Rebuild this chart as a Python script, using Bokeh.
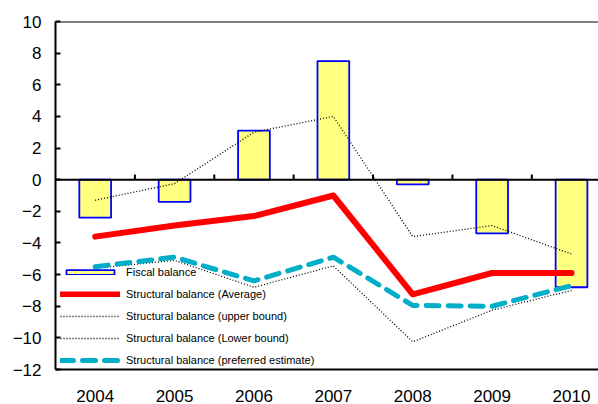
from bokeh.plotting import figure
from bokeh.models import Range1d, FixedTicker, Span, Legend, LegendItem, ColumnDataSource
from bokeh.embed import file_html
from bokeh.resources import INLINE

years = ["2004", "2005", "2006", "2007", "2008", "2009", "2010"]
fiscal = [-2.4, -1.4, 3.1, 7.5, -0.3, -3.4, -6.8]
avg = [-3.6, -2.9, -2.3, -1.0, -7.25, -5.9, -5.9]
upper = [-1.3, -0.25, 3.0, 4.0, -3.6, -2.9, -4.7]
lower = [-5.6, -5.1, -6.8, -5.45, -10.25, -8.25, -7.0]
preferred = [-5.5, -4.9, -6.4, -4.9, -7.95, -8.0, -6.7]
y_ticks = [-12, -10, -8, -6, -4, -2, 0, 2, 4, 6, 8, 10]

xs = list(range(len(years)))
bounds = [i + 0.5 for i in xs[:-1]]

FONT = "Liberation Sans"

p = figure(width=598, height=404, output_backend="svg", toolbar_location=None,
           x_range=Range1d(-0.5, 6.34), y_range=Range1d(-12, 10),
           min_border_left=55, min_border_top=21, min_border_bottom=31, min_border_right=0)
p.outline_line_color = None
p.xgrid.visible = False
p.ygrid.visible = False
p.background_fill_color = "white"
p.border_fill_color = "white"

# axes
p.yaxis.ticker = FixedTicker(ticks=y_ticks)
p.yaxis.major_tick_in = 5
p.yaxis.major_tick_out = 0
p.yaxis.minor_tick_line_color = None
p.yaxis.axis_line_width = 2
p.yaxis.axis_line_color = "black"
p.yaxis.major_tick_line_width = 2
p.yaxis.major_label_text_font = FONT
p.yaxis.major_label_text_font_size = "17px"
p.yaxis.major_label_text_color = "black"
p.yaxis.major_label_standoff = 14

p.xaxis.ticker = FixedTicker(ticks=xs)
p.xaxis.major_label_overrides = {i: y for i, y in zip(xs, years)}
p.xaxis.major_tick_line_color = None
p.xaxis.minor_tick_line_color = None
p.xaxis.axis_line_width = 2
p.xaxis.axis_line_color = "black"
p.xaxis.major_label_text_font = FONT
p.xaxis.major_label_text_font_size = "17px"
p.xaxis.major_label_text_color = "black"
p.xaxis.major_label_standoff = 14

# top border and zero line
p.add_layout(Span(location=10, dimension="width", line_color="black", line_width=2))
p.add_layout(Span(location=0, dimension="width", line_color="black", line_width=2))
p.segment(x0=bounds, y0=[0] * len(bounds), x1=bounds, y1=[0.32] * len(bounds),
          line_color="black", line_width=2)

src = ColumnDataSource(dict(x=xs, fiscal=fiscal, avg=avg, upper=upper, lower=lower, pref=preferred))

r_bar = p.vbar(x="x", top="fiscal", bottom=0, width=0.4, source=src,
               fill_color="#FFFF80", line_color="#0000FF", line_width=1.8)
r_up = p.line("x", "upper", source=src, line_color="black", line_width=1.3, line_dash="1 2")
r_lo = p.line("x", "lower", source=src, line_color="black", line_width=1.3, line_dash="1 2")
r_avg = p.line("x", "avg", source=src, line_color="#FF0000", line_width=6, line_cap="round", line_join="round")
r_pref = p.line("x", "pref", source=src, line_color="#00AEC8", line_width=5, line_dash="13 9",
                line_cap="round", line_join="round")

legend = Legend(items=[
    LegendItem(label="Fiscal balance", renderers=[r_bar]),
    LegendItem(label="Structural balance (Average)", renderers=[r_avg]),
    LegendItem(label="Structural balance (upper bound)", renderers=[r_up]),
    LegendItem(label="Structural balance (Lower bound)", renderers=[r_lo]),
    LegendItem(label="Structural balance (preferred estimate)", renderers=[r_pref]),
], location=(5, 0))
legend.background_fill_alpha = 0
legend.border_line_color = None
legend.padding = 0
legend.margin = 0
legend.spacing = 3
legend.glyph_width = 60
legend.glyph_height = 6
legend.label_height = 19
legend.label_standoff = 6
legend.label_text_font = FONT
legend.label_text_font_size = "11px"
legend.label_text_color = "black"
p.add_layout(legend, "center")

open("out.html", "w").write(file_html(p, INLINE))
